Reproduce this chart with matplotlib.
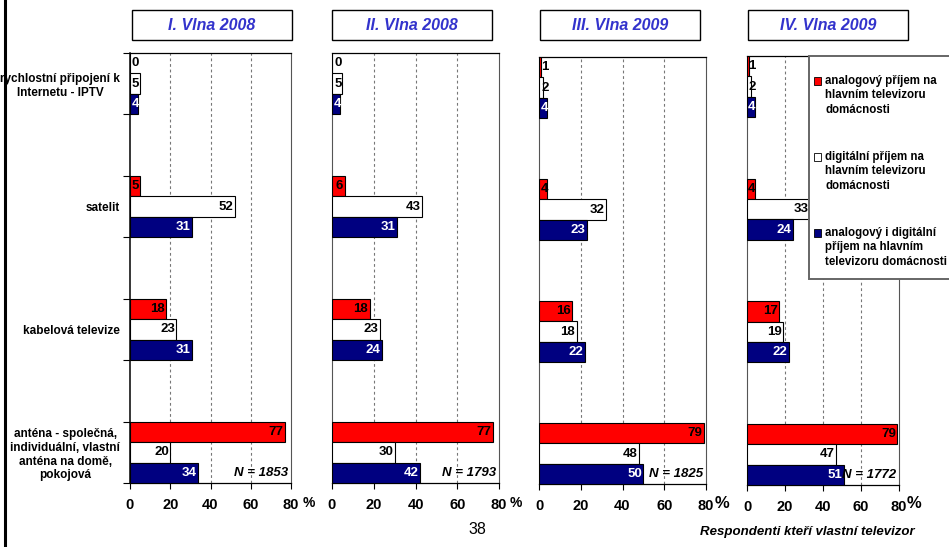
import matplotlib
matplotlib.use("Agg")
import matplotlib.pyplot as plt
from matplotlib.patches import Rectangle
from matplotlib.lines import Line2D

plt.rcParams['font.family'] = ['Liberation Sans', 'DejaVu Sans']

categories = ['rychlostní připojení k\nInternetu - IPTV',
              'satelit',
              'kabelová televize',
              'anténa - společná,\nindividuální, vlastní\nanténa na domě,\npokojová']
waves = ['I. Vlna 2008', 'II. Vlna 2008', 'III. Vlna 2009', 'IV. Vlna 2009']
n_values = [1853, 1793, 1825, 1772]

# per wave: [IPTV, satelit, kabelova, antena]
analog = [[0, 5, 18, 77], [0, 6, 18, 77], [1, 4, 16, 79], [1, 4, 17, 79]]
digital = [[5, 52, 23, 20], [5, 43, 23, 30], [2, 32, 18, 48], [2, 33, 19, 47]]
both = [[4, 31, 31, 34], [4, 31, 24, 42], [4, 23, 22, 50], [4, 24, 22, 51]]

legend_labels = ['analogový příjem na\nhlavním televizoru\ndomácnosti',
                 'digitální příjem na\nhlavním televizoru\ndomácnosti',
                 'analogový i digitální\npříjem na hlavním\ntelevizoru domácnosti']
colors = ['#FF0000', '#FFFFFF', '#000080']
text_colors = ['black', 'black', 'white']
xticks = [0, 20, 40, 60, 80]

W, H = 949, 547
fig = plt.figure(figsize=(W / 100, H / 100), dpi=100)

# axes boxes in pixels: left, right, top, bottom
boxes = [(130, 291, 53, 483), (332, 499, 53, 483), (539, 706, 57, 484), (747, 899, 56, 485)]
title_boxes = [(132, 292), (332, 492), (540, 700), (748, 908)]
pct_x = [309, 516, 722, 914]


def fx(px):
    return px / W


def fy(py):
    return 1 - py / H


bh = 1 / 6
for i in range(4):
    l, r, t, b = boxes[i]
    ax = fig.add_axes([fx(l), fy(b), fx(r) - fx(l), fy(t) - fy(b)])
    series = [analog[i], digital[i], both[i]]
    for s in range(3):
        ys = [c + (s - 1) * bh for c in range(4)]
        ax.barh(ys, series[s], height=bh, color=colors[s], edgecolor='black',
                linewidth=0.8, zorder=3)
        for y, v in zip(ys, series[s]):
            ax.text(max(v - 0.7, 4.6), y, str(v), ha='right', va='center',
                    fontsize=9.5, fontweight='bold', color=text_colors[s],
                    zorder=4, clip_on=True)
    ax.set_xlim(0, 80)
    ax.set_ylim(3.25, -0.25)
    ax.set_xticks(xticks)
    ax.set_xticklabels([str(x) for x in xticks], fontsize=10.5, fontweight='bold')
    ax.tick_params(axis='x', length=4, width=0.8, pad=7)
    for g in [20, 40, 60]:
        ax.axvline(g, color='#777777', linestyle=(0, (2.5, 2.5)), linewidth=0.8, zorder=1)
    ax.text(78.5, 3 + bh, 'N = %d' % n_values[i], ha='right', va='center',
            fontsize=9.5, fontweight='bold', style='italic', zorder=5)
    for sp in ['top', 'bottom']:
        ax.spines[sp].set_color('black')
        ax.spines[sp].set_linewidth(0.9)
    ax.spines['right'].set_color('#555555')
    if i == 0:
        ax.set_yticks(range(4))
        ax.set_yticklabels(categories, fontsize=8.5, fontweight='bold')
        for lab in ax.get_yticklabels():
            lab.set_multialignment('center')
        ax.set_yticks([c + d for c in range(4) for d in (-0.25, 0.25)], minor=True)
        ax.tick_params(axis='y', which='major', length=0, pad=7)
        ax.tick_params(axis='y', which='minor', length=5, width=0.8)
        ax.spines['left'].set_color('black')
        ax.spines['left'].set_linewidth(1.1)
    else:
        ax.set_yticks([])
        ax.spines['left'].set_color('#555555')

    # wave title box
    tl, tr = title_boxes[i]
    fig.patches.append(Rectangle((fx(tl), fy(40)), fx(tr) - fx(tl), fy(10) - fy(40),
                                 transform=fig.transFigure, facecolor='white',
                                 edgecolor='black', linewidth=1.0))
    fig.text(fx((tl + tr) / 2), fy(25), waves[i], ha='center', va='center',
             fontsize=11.5, fontweight='bold', style='italic', color='#3333CC')
    fig.text(fx(pct_x[i]), fy(503), '%', ha='center', va='center',
             fontsize=10 if i < 2 else 12, fontweight='bold')

# legend box (runs off the right edge)
leg_l, leg_t, leg_b = 809, 56, 279
fig.patches.append(Rectangle((fx(leg_l), fy(leg_b)), fx(W + 10) - fx(leg_l), fy(leg_t) - fy(leg_b),
                             transform=fig.transFigure, facecolor='white',
                             edgecolor='#666666', linewidth=1.4, zorder=5))
leg_y = [81, 157, 233]
for k in range(3):
    fig.patches.append(Rectangle((fx(814), fy(leg_y[k] + 4)), fx(7), fy(0) - fy(8),
                                 transform=fig.transFigure, facecolor=colors[k],
                                 edgecolor='black', linewidth=0.6, zorder=6))
    fig.text(fx(825), fy(leg_y[k] - 6), legend_labels[k], ha='left', va='top',
             fontsize=8.3, fontweight='bold', linespacing=1.27, zorder=6)

# outer frame line on the left
fig.add_artist(Line2D([fx(5), fx(5)], [0, 1], transform=fig.transFigure,
                      color='black', linewidth=2.2))

fig.text(fx(477), fy(530), '38', ha='center', va='center', fontsize=11.5)
fig.text(fx(915), fy(532), 'Respondenti kteří vlastní televizor', ha='right', va='center',
         fontsize=9.5, fontweight='bold', style='italic')

fig.savefig('out.png', dpi=100)
